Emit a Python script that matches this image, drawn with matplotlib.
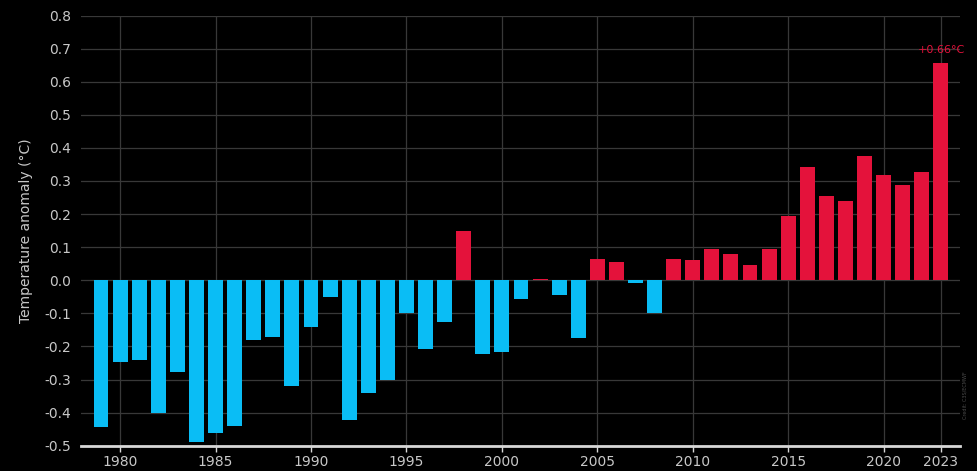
import matplotlib
matplotlib.use("Agg")
import matplotlib.pyplot as plt

years = list(range(1979, 2024))
anomalies = [
    -0.443, -0.247, -0.240, -0.402, -0.276, -0.488, -0.463, -0.440, -0.181, -0.171,
    -0.319, -0.141, -0.052, -0.423, -0.342, -0.302, -0.099, -0.208, -0.127, 0.149,
    -0.222, -0.217, -0.058, 0.005, -0.044, -0.175, 0.064, 0.054, -0.008, -0.099,
    0.064, 0.062, 0.093, 0.080, 0.046, 0.093, 0.193, 0.342, 0.256, 0.239,
    0.375, 0.318, 0.287, 0.327, 0.656,
]
xtick_years = [1980, 1985, 1990, 1995, 2000, 2005, 2010, 2015, 2020, 2023]
ytick_vals = [-0.5, -0.4, -0.3, -0.2, -0.1, 0.0, 0.1, 0.2, 0.3, 0.4, 0.5, 0.6, 0.7, 0.8]
last_label = "+0.66°C"

BLUE = "#0ABDF5"
RED = "#E4123B"
TXT = "#C8C8C8"
GRID = "#383838"

fig = plt.figure(figsize=(9.77, 4.71), dpi=100, facecolor="black")
ax = fig.add_axes([0.0829, 0.0537, 0.8997, 0.9133])
ax.set_facecolor("black")

colors = [RED if v > 0 else BLUE for v in anomalies]
ax.bar(years, anomalies, width=0.78, color=colors, zorder=3)

ax.set_xlim(1977.95, 2024.0)
ax.set_ylim(-0.5, 0.8)
ax.set_yticks(ytick_vals)
ax.set_yticklabels([f"{v:.1f}" for v in ytick_vals])
ax.set_xticks(xtick_years)
ax.set_xticklabels([str(y) for y in xtick_years])

ax.grid(True, color=GRID, linewidth=0.9, zorder=0)
for s in ["top", "right", "left"]:
    ax.spines[s].set_visible(False)
ax.spines["bottom"].set_color("#D8D8D8")
ax.spines["bottom"].set_linewidth(2.0)
ax.spines["bottom"].set_zorder(4)

ax.tick_params(axis="y", length=0, pad=7, labelcolor=TXT, labelsize=10)
ax.tick_params(axis="x", length=4, width=1, color="#D8D8D8", pad=3,
               labelcolor=TXT, labelsize=10)

ax.set_ylabel("Temperature anomaly (°C)", color=TXT, fontsize=10, labelpad=8)

ax.annotate(last_label, xy=(years[-1], anomalies[-1]), xytext=(0, 6),
            textcoords="offset points", ha="center", va="bottom",
            color=RED, fontsize=8)

fig.text(0.988, 0.16, "Credit: C3S/ECMWF", rotation=90, color="#4A4A4A",
         fontsize=3.5, ha="center", va="center")

fig.savefig("out.png", dpi=100, facecolor="black")
